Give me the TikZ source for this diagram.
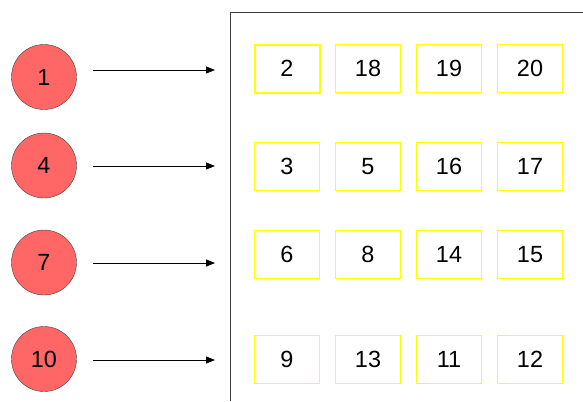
\documentclass[tikz,border=0pt]{standalone}
\usepackage{fontspec}
\setmainfont{Liberation Sans}
\usetikzlibrary{arrows.meta, positioning}
\definecolor{keycolor}{RGB}{255, 102, 102}
\definecolor{cellcolor}{RGB}{255, 255, 0}
\definecolor{framecolor}{RGB}{60, 60, 60}

\tikzset{
    key/.style={circle, draw=black!75, fill=keycolor, minimum size=65bp, inner sep=0pt, font=\fontsize{23.5}{26}\selectfont},
    cell/.style={draw=cellcolor, line width=1bp, minimum width=65bp, minimum height=48bp, inner sep=0pt, font=\fontsize{23.5}{26}\selectfont},
    link/.style={-{Triangle[length=9bp, width=7bp]}, line width=0.9bp}
}

\begin{document}
\begin{tikzpicture}[x=1bp, y=-1bp]

    \useasboundingbox (0,0) rectangle (583,401);

    % --- Frame (open to the right and below) ---
    \draw[framecolor, line width=1bp] (230.5,401) -- (230.5,12.5) -- (583,12.5);

    % --- Keys on the left ---
    \node[key] (k1) at (44,77) {1};
    \node[key] (k2) at (44,165.5) {4};
    \node[key] (k3) at (44,262.5) {7};
    \node[key] (k4) at (44,359) {10};

    % --- Arrows into the frame ---
    \foreach \r/\y in {1/70, 2/166, 3/263, 4/360} {
        \coordinate (s\r) at (93,\y);
        \coordinate (e\r) at (215,\y);
        \draw[link] (s\r) -- (e\r);
    }

    % --- Row 1 (first cell highlighted) ---
    \node[cell, line width=2bp] (b11) at (287,68.5) {2};
    \foreach \v [count=\c from 2] in {18,19,20}
        \node[cell] (b1\c) at ({206+81*\c},68.5) {\v};

    % --- Row 2 ---
    \foreach \v [count=\c] in {3,5,16,17}
        \node[cell] (b2\c) at ({206+81*\c},166.5) {\v};

    % --- Row 3 ---
    \foreach \v [count=\c] in {6,8,14,15}
        \node[cell] (b3\c) at ({206+81*\c},254.5) {\v};

    % --- Row 4 ---
    \foreach \v [count=\c] in {9,13,11,12}
        \node[cell] (b4\c) at ({206+81*\c},359.5) {\v};

\end{tikzpicture}
\end{document}
